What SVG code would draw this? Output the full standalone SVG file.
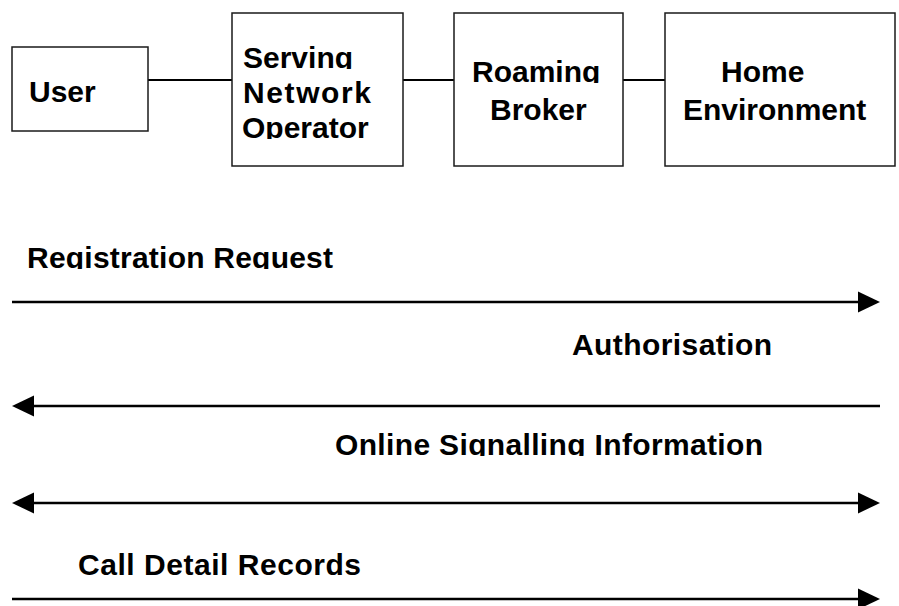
<svg xmlns="http://www.w3.org/2000/svg" width="899" height="606" viewBox="0 0 899 606">
<style>
.box{fill:#fff;stroke:#1a1a1a;stroke-width:1.5}
.lbl{font-family:"Liberation Sans",Arial,sans-serif;font-weight:bold;font-size:30px;fill:#000}
.link{stroke:#000;stroke-width:2;fill:none}
.msg{stroke:#000;stroke-width:2.5;fill:none}
</style>
<defs>
<marker id="ah" markerUnits="userSpaceOnUse" markerWidth="22" markerHeight="22" viewBox="0 0 20 20" refX="10" refY="10" orient="auto-start-reverse">
<path d="M0,0.5 L20,10 L0,19.5 Z" fill="#000"/>
</marker>
<clipPath id="c1"><rect x="0" y="0" width="899" height="69"/></clipPath>
<clipPath id="c2"><rect x="0" y="0" width="899" height="139"/></clipPath>
<clipPath id="c3"><rect x="0" y="0" width="899" height="83"/></clipPath>
<clipPath id="c4"><rect x="0" y="0" width="899" height="269"/></clipPath>
<clipPath id="c5"><rect x="0" y="0" width="899" height="456"/></clipPath>
</defs>
<g id="connectors">
<line class="link" x1="148" y1="80" x2="232" y2="80"/>
<line class="link" x1="403" y1="80" x2="454" y2="80"/>
<line class="link" x1="623" y1="80" x2="665" y2="80"/>
<line class="msg" x1="12" y1="302" x2="869" y2="302" marker-end="url(#ah)"/>
<line class="msg" x1="880" y1="406" x2="23" y2="406" marker-end="url(#ah)"/>
<line class="msg" x1="23" y1="503" x2="869" y2="503" marker-start="url(#ah)" marker-end="url(#ah)"/>
<line class="msg" x1="12" y1="599" x2="869" y2="599" marker-end="url(#ah)"/>
</g>
<g id="user">
<rect class="box" x="12" y="47" width="136" height="84"/>
<text class="lbl" x="29" y="102">User</text>
</g>
<g id="serving">
<rect class="box" x="232" y="13" width="171" height="153"/>
<text class="lbl" x="243" y="68" clip-path="url(#c1)">Serving</text>
<text class="lbl" x="243" y="103" textLength="128" lengthAdjust="spacing">Network</text>
<text class="lbl" x="242" y="138" clip-path="url(#c2)">Operator</text>
</g>
<g id="roaming">
<rect class="box" x="454" y="13" width="169" height="153"/>
<text class="lbl" x="472" y="82" clip-path="url(#c3)">Roaming</text>
<text class="lbl" x="490" y="120">Broker</text>
</g>
<g id="home">
<rect class="box" x="665" y="13" width="230" height="153"/>
<text class="lbl" x="721" y="82">Home</text>
<text class="lbl" x="683" y="120">Environment</text>
</g>
<g id="labels">
<text class="lbl" x="27" y="268" clip-path="url(#c4)" textLength="306" lengthAdjust="spacing">Registration Request</text>
<text class="lbl" x="572" y="355" textLength="200" lengthAdjust="spacing">Authorisation</text>
<text class="lbl" x="335" y="455" clip-path="url(#c5)" textLength="428" lengthAdjust="spacing">Online Signalling Information</text>
<text class="lbl" x="78" y="575" textLength="283" lengthAdjust="spacing">Call Detail Records</text>
</g>
</svg>
